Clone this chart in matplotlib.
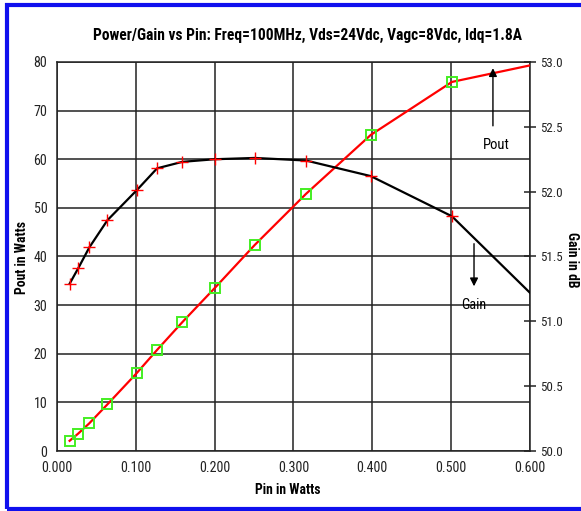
import matplotlib
matplotlib.use('Agg')
import matplotlib.pyplot as plt
from matplotlib.patches import Rectangle
from matplotlib import font_manager

# dados de entrada
pin = [0.016, 0.027, 0.041, 0.064, 0.101, 0.127, 0.159, 0.200, 0.251, 0.316, 0.398, 0.501, 0.600]
pout = [2.1, 3.6, 5.7, 9.6, 16.0, 20.8, 26.5, 33.5, 42.4, 52.9, 65.0, 75.9, 79.3]
gain = [51.29, 51.41, 51.57, 51.78, 52.01, 52.18, 52.23, 52.25, 52.26, 52.24, 52.12, 51.81, 51.22]
n_marc = 12  # o ultimo ponto nao tem marcador

x_ticks = [0.0, 0.1, 0.2, 0.3, 0.4, 0.5, 0.6]
y_ticks = [0, 10, 20, 30, 40, 50, 60, 70, 80]
g_ticks = [50.0, 50.5, 51.0, 51.5, 52.0, 52.5, 53.0]

titulo = 'Power/Gain vs Pin: Freq=100MHz, Vds=24Vdc, Vagc=8Vdc, Idq=1.8A'

# fonte estreita se existir, senao Liberation Sans com tamanho menor
nomes = set(f.name for f in font_manager.fontManager.ttflist)
fonte, k = 'Liberation Sans', 1.0
for cand in ['Liberation Sans Narrow', 'Arial Narrow', 'Roboto Condensed', 'DejaVu Sans Condensed']:
    if cand in nomes:
        fonte, k = cand, 1.2
        break
plt.rcParams['font.family'] = [fonte, 'DejaVu Sans']

fig = plt.figure(figsize=(5.81, 5.11), dpi=100)
ax = fig.add_axes([0.0981, 0.1174, 0.8141, 0.7613])

ax.set_xlim(0, 0.6)
ax.set_ylim(0, 80)
ax.set_xticks(x_ticks)
ax.set_xticklabels([f'{v:.3f}' for v in x_ticks])
ax.set_yticks(y_ticks)
ax.grid(True, color='#222222', lw=1.1)
ax.tick_params(length=0, labelsize=8.4 * k, pad=7, colors='#222222')
for s in ax.spines.values():
    s.set_color('#222222')
    s.set_linewidth(1.1)

# Pout
ax.plot(pin, pout, '-', color='red', lw=1.6, zorder=3)
ax.plot(pin[:n_marc], pout[:n_marc], 's', ms=7, mfc='none', mec='#44ee22', mew=1.4, zorder=4)

# Gain
ax2 = ax.twinx()
ax2.set_ylim(50, 53)
ax2.set_yticks(g_ticks)
ax2.set_yticklabels([f'{v:.1f}' for v in g_ticks])
ax2.tick_params(direction='inout', length=9, width=1.1, labelsize=7.8 * k, pad=3, colors='#222222')
for s in ax2.spines.values():
    s.set_visible(False)
ax2.plot(pin, gain, '-', color='black', lw=1.6, zorder=3)
ax2.plot(pin[:n_marc], gain[:n_marc], '+', ms=8, color='red', mew=1.0, zorder=4)

# anotacoes
ax.annotate('', xy=(0.553, 79.3), xytext=(0.553, 66.3),
            arrowprops=dict(arrowstyle='-|>', color='black', lw=1.0, mutation_scale=12))
ax.text(0.557, 63.0, 'Pout', ha='center', va='center', fontsize=8.8 * k)
ax.annotate('', xy=(0.529, 33.3), xytext=(0.529, 43.2),
            arrowprops=dict(arrowstyle='-|>', color='black', lw=1.0, mutation_scale=12))
ax.text(0.529, 30.0, 'Gain', ha='center', va='center', fontsize=8.5 * k)

fig.text(0.53, 0.9315, titulo, ha='center', va='center', fontsize=9.3 * k, fontweight='bold')
fig.text(288 / 581, 1 - 490 / 511, 'Pin in Watts', ha='center', va='center',
         fontsize=8.2 * k, fontweight='bold')
fig.text(22 / 581, 1 - 258 / 511, 'Pout in Watts', ha='center', va='center', rotation=90,
         fontsize=8.2 * k, fontweight='bold')
fig.text(572 / 581, 1 - 260 / 511, 'Gain in dB', ha='center', va='center', rotation=-90,
         fontsize=8.2 * k, fontweight='bold')

# moldura azul
fig.patches.append(Rectangle((0.012, 0.004), 1.2, 0.986, transform=fig.transFigure,
                             fill=False, ec='#1010ee', lw=3))

fig.savefig('out.png', dpi=100)
